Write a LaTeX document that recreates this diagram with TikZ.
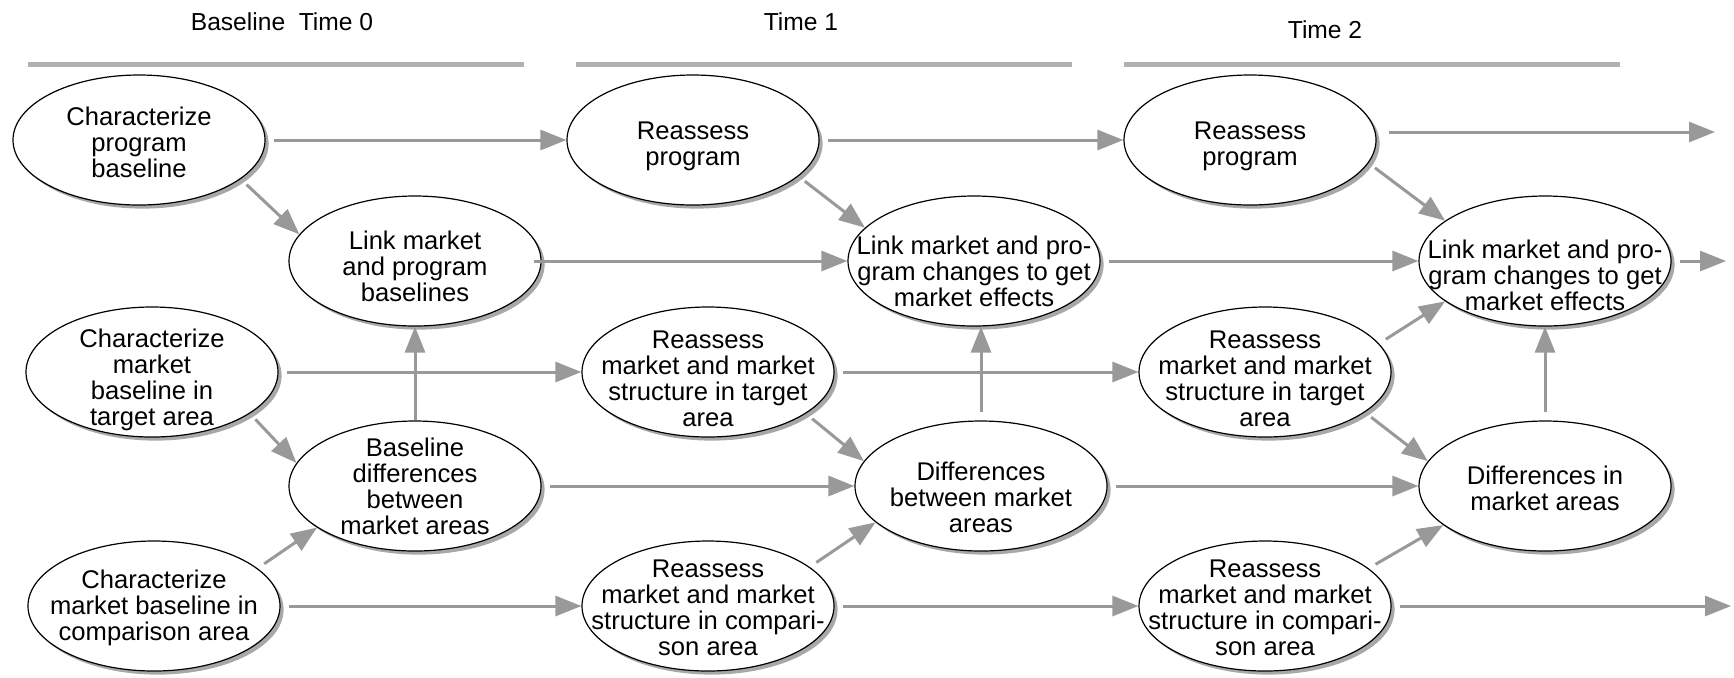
\documentclass[tikz,border=0pt]{standalone}
\usepackage{fontspec}
\setmainfont{Liberation Sans}
\usetikzlibrary{arrows.meta,shapes.geometric,shadows}
\definecolor{flowgray}{HTML}{999999}
\definecolor{rulegray}{HTML}{B0B0B0}
\definecolor{shadegray}{HTML}{A8A8A8}

\begin{document}
\begin{tikzpicture}[x=0.5pt,y=-0.5pt,
    stage/.style 2 args={ellipse,draw=black,line width=0.6pt,fill=white,
      minimum width=126pt,minimum height=65pt,inner sep=0pt,
      drop shadow={shadow xshift=1.8pt,shadow yshift=-1.8pt,fill=shadegray,opacity=1},
      label={[stagetext,yshift=-#2]center:{#1}}},
    stagetext/.style={align=center,inner sep=0pt,font=\fontsize{12.8}{12.95}\selectfont},
    flow/.style={flowgray,line width=1.5pt,shorten <=4pt,-{Triangle[length=13pt,width=10pt]}},
    timerule/.style={rulegray,line width=2.5pt},
    timehead/.style={font=\fontsize{12.3}{14}\selectfont}]
  \useasboundingbox (0,0) rectangle (1734,677);

  \node[timehead] (hd0) at (282,22) {Baseline~ Time 0};
  \node[timehead] (hd1) at (801,22) {Time 1};
  \node[timehead] (hd2) at (1325,30) {Time 2};
  \foreach \x in {28,576,1124}
    \draw[timerule] (\x,64) -- ++(496,0);

  \node[stage={Characterize\\program\\baseline}{1pt}] (cpb) at (139,140) {};
  \node[stage={Link market\\and program\\baselines}{2.5pt}] (lmp) at (415,261) {};
  \node[stage={Characterize\\market\\baseline in\\target area}{4pt}] (cmt) at (152,372) {};
  \node[stage={Baseline\\differences\\between\\market areas}{0pt}] (bdm) at (415,486) {};
  \node[stage={Characterize\\market baseline in\\comparison area}{1pt}] (cmc) at (154,606) {};

  \node[stage={Reassess\\program}{3pt}] (rp1) at (693,140) {};
  \node[stage={Link market and pro-\\gram changes to get\\market effects}{5pt}] (lmc1) at (974,261) {};
  \node[stage={Reassess\\market and market\\structure in target\\area}{3.3pt}] (rmt1) at (708,372) {};
  \node[stage={Differences\\between market\\areas}{5.5pt}] (dbm1) at (981,486) {};
  \node[stage={Reassess\\market and market\\structure in compari-\\son area}{1pt}] (rmc1) at (708,606) {};

  \node[stage={Reassess\\program}{3pt}] (rp2) at (1250,140) {};
  \node[stage={Link market and pro-\\gram changes to get\\market effects}{7pt}] (lmc2) at (1545,261) {};
  \node[stage={Reassess\\market and market\\structure in target\\area}{3.3pt}] (rmt2) at (1265,372) {};
  \node[stage={Differences in\\market areas}{1pt}] (dim2) at (1545,486) {};
  \node[stage={Reassess\\market and market\\structure in compari-\\son area}{1pt}] (rmc2) at (1265,606) {};

  \coordinate (rp2out) at (1715,132);
  \coordinate (lmcout) at (1726,261);
  \coordinate (rmcout) at (1731,606);

  \draw[flow] (cpb) -- (rp1);
  \draw[flow] (rp1) -- (rp2);
  \draw[flow] ([xshift=2pt,yshift=4pt]rp2.east) -- (rp2out);
  \draw[flow,shorten <=-4pt] (lmp) -- (lmc1);
  \draw[flow] (lmc1) -- (lmc2);
  \draw[flow] (lmc2) -- (lmcout);
  \draw[flow] (cmt) -- (rmt1);
  \draw[flow] (rmt1) -- (rmt2);
  \draw[flow] (bdm) -- (dbm1);
  \draw[flow] (dbm1) -- (dim2);
  \draw[flow] (cmc) -- (rmc1);
  \draw[flow] (rmc1) -- (rmc2);
  \draw[flow] (rmc2) -- (rmcout);

  \draw[flow,shorten <=0pt] (bdm) -- (lmp);
  \draw[flow] (dbm1.north) -- (dbm1.north |- lmc1.south);
  \draw[flow] (dim2) -- (lmc2);

  \draw[flow] (cpb.-21) -- (lmp.167);
  \draw[flow] (cmt.-23) -- (bdm.169);
  \draw[flow] (cmc.20) -- (bdm.203);
  \draw[flow] (rp1.-19) -- (lmc1.163);
  \draw[flow] (rmt1.-23) -- (dbm1.168);
  \draw[flow] (rmc1.21) -- (dbm1.199);
  \draw[flow] (rp2.-11) -- (lmc2.158);
  \draw[flow] (rmt2.14) -- (lmc2.202);
  \draw[flow] (rmt2.-22) -- (dim2.168);
  \draw[flow] (rmc2.20) -- (dim2.201);
\end{tikzpicture}
\end{document}
